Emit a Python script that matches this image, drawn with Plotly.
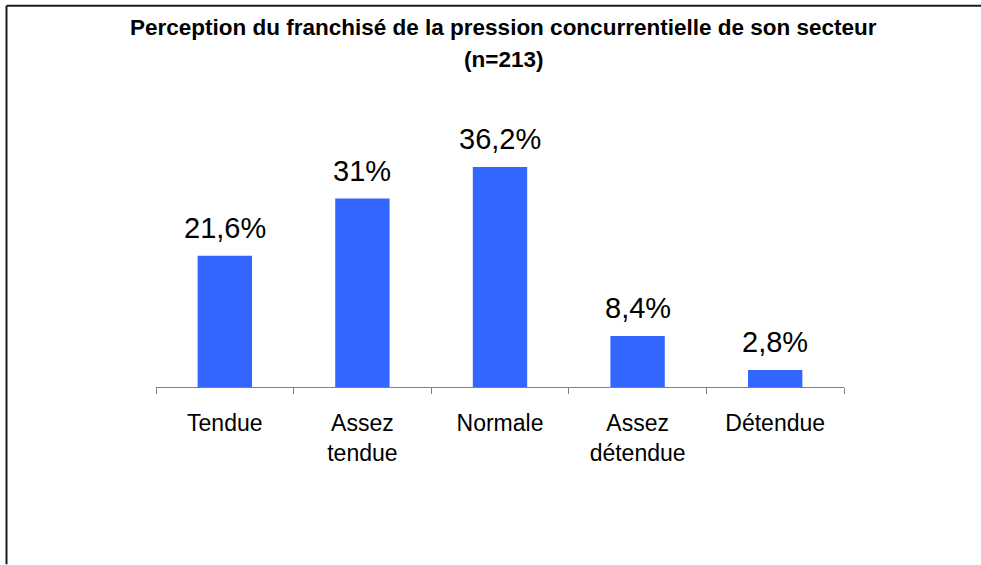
import plotly.graph_objects as go

categories = ["Tendue", "Assez<br>tendue", "Normale", "Assez<br>détendue", "Détendue"]
values = [21.6, 31, 36.2, 8.4, 2.8]
value_labels = ["21,6%", "31%", "36,2%", "8,4%", "2,8%"]
title_lines = ["Perception du franchisé de la pression concurrentielle de son secteur", "(n=213)"]

W, H = 981, 565
ML, MR, MT, MB = 156, 137, 100, 177.5
PW, PH = W - ML - MR, H - MT - MB

fig = go.Figure()
fig.add_trace(go.Bar(
    x=categories, y=values, width=0.395,
    marker=dict(color="#3366FF", line=dict(width=0)),
    hoverinfo="skip",
))

for c, v, t in zip(categories, values, value_labels):
    fig.add_annotation(x=c, y=v, text=t, showarrow=False, yanchor="bottom",
                       yshift=10, font=dict(family="Liberation Sans, Arial", size=29, color="#000"))

for line, ymid in zip(title_lines, [27.5, 59]):
    fig.add_annotation(xref="paper", yref="paper", x=(503 - ML) / PW, y=1 + (MT - ymid) / PH,
                       text="<b>" + line + "</b>",
                       showarrow=False, xanchor="center", yanchor="middle",
                       font=dict(family="Liberation Sans, Arial", size=22.5, color="#000"))

# chart border (top and left edges)
x0 = (6.5 - ML) / PW
y0 = 1 + (MT - 5.5) / PH
fig.add_shape(type="line", xref="paper", yref="paper", x0=x0, x1=1 + MR / PW, y0=y0, y1=y0,
              line=dict(color="#1a1a1a", width=2))
fig.add_shape(type="line", xref="paper", yref="paper", x0=x0, x1=x0, y0=y0, y1=-MB / PH,
              line=dict(color="#1a1a1a", width=2))

fig.update_layout(
    width=W, height=H,
    margin=dict(l=ML, r=MR, t=MT, b=MB, autoexpand=False),
    paper_bgcolor="white", plot_bgcolor="white",
    showlegend=False, bargap=0.6,
    font=dict(family="Liberation Sans, Arial", color="#000"),
    xaxis=dict(
        type="category", showline=True, linecolor="#808080", linewidth=1,
        ticks="outside", tickson="boundaries", ticklen=6, tickcolor="#808080",
        tickfont=dict(size=23, color="#000"), showgrid=False, zeroline=False,
        ticklabelstandoff=15,
    ),
    yaxis=dict(range=[0, PH / 6.09], visible=False, showgrid=False, zeroline=False),
)

fig.write_html("out.html", config={"displayModeBar": False},
               post_script="document.body.style.margin='0';document.body.style.overflow='hidden';")
